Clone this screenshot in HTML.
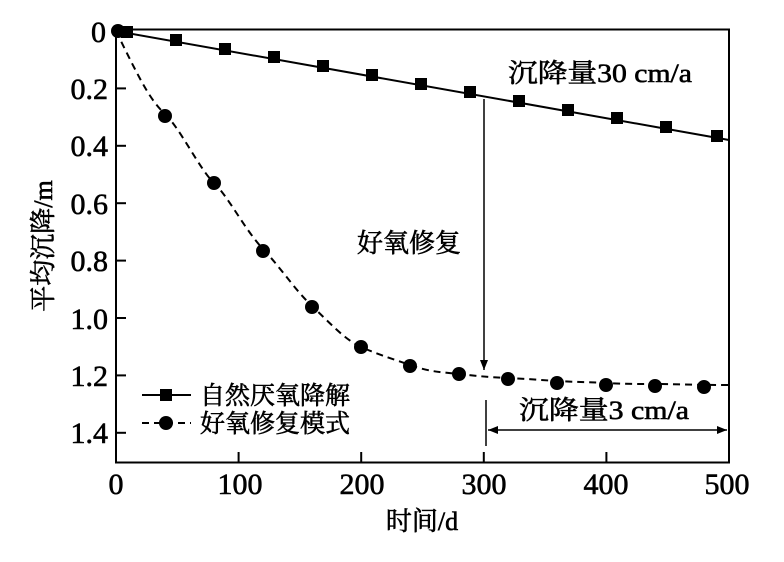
<!DOCTYPE html><html><head><meta charset="utf-8"><style>body{margin:0;background:#fff}svg{display:block}text{font-family:"Liberation Serif","Noto Serif CJK SC",serif;fill:#000;stroke:#000;stroke-width:0.6}</style></head><body>
<svg width="784" height="562" viewBox="0 0 784 562">
<defs><marker id="ah" markerWidth="10" markerHeight="8" refX="10" refY="4" orient="auto-start-reverse" markerUnits="userSpaceOnUse"><path d="M0,0L10,4L0,8z" fill="#000"/></marker></defs>
<rect x="116" y="29.5" width="613" height="433" fill="none" stroke="#000" stroke-width="2"/>
<g stroke="#000" stroke-width="2">
<line x1="238.6" y1="462" x2="238.6" y2="452"/><line x1="361.2" y1="462" x2="361.2" y2="452"/><line x1="483.8" y1="462" x2="483.8" y2="452"/><line x1="606.4" y1="462" x2="606.4" y2="452"/>
<line x1="116" y1="88.4" x2="126" y2="88.4"/><line x1="116" y1="145.8" x2="126" y2="145.8"/><line x1="116" y1="203.2" x2="126" y2="203.2"/><line x1="116" y1="260.6" x2="126" y2="260.6"/><line x1="116" y1="318" x2="126" y2="318"/><line x1="116" y1="375.4" x2="126" y2="375.4"/><line x1="116" y1="432.8" x2="126" y2="432.8"/>
</g>
<g font-size="30" text-anchor="end"><text x="106" y="42">0</text><text x="108" y="99">0.2</text><text x="108" y="156">0.4</text><text x="108" y="214">0.6</text><text x="108" y="271">0.8</text><text x="108" y="329">1.0</text><text x="108" y="386">1.2</text><text x="108" y="443">1.4</text></g>
<g font-size="30" text-anchor="middle"><text x="116" y="494">0</text><text x="240" y="494">100</text><text x="362" y="494">200</text><text x="484" y="494">300</text><text x="606" y="494">400</text><text x="727" y="494">500</text></g>
<text x="422" y="530" font-size="26" text-anchor="middle">时间/d</text>
<text transform="translate(52,246) rotate(-90)" font-size="26" text-anchor="middle">平均沉降/m</text>
<polyline points="116,31 729,140" fill="none" stroke="#000" stroke-width="2"/>
<g fill="#000">
<rect x="121" y="26" width="12" height="12"/><rect x="170" y="34" width="12" height="12"/><rect x="219" y="43" width="12" height="12"/><rect x="268" y="51" width="12" height="12"/><rect x="317" y="60" width="12" height="12"/><rect x="366" y="69" width="12" height="12"/><rect x="415" y="78" width="12" height="12"/><rect x="464" y="86" width="12" height="12"/><rect x="513" y="95" width="12" height="12"/><rect x="562" y="104" width="12" height="12"/><rect x="611" y="112" width="12" height="12"/><rect x="660" y="121" width="12" height="12"/><rect x="711" y="130" width="12" height="12"/>
</g>
<path d="M116,31 C140,80 150,100 165,114 S200,170 214,183 S245,230 263,249 S295,290 312,306 S345,340 361,347 S390,358 410,365 S440,372 459,374 S485,377 508,378 S540,380 557,381 S590,382 606,383 S640,384 655,384 S700,385 729,385" fill="none" stroke="#000" stroke-width="2" stroke-dasharray="7,5"/>
<g fill="#000">
<circle cx="118" cy="31" r="7"/><circle cx="165" cy="116" r="7"/><circle cx="214" cy="183" r="7"/><circle cx="263" cy="251" r="7"/><circle cx="312" cy="307" r="7"/><circle cx="361" cy="347" r="7"/><circle cx="410" cy="366" r="7"/><circle cx="459" cy="374" r="7"/><circle cx="508" cy="379" r="7"/><circle cx="557" cy="383" r="7"/><circle cx="606" cy="385" r="7"/><circle cx="655" cy="386" r="7"/><circle cx="704" cy="387" r="7"/>
</g>
<line x1="484" y1="99" x2="484" y2="370" stroke="#000" stroke-width="1.5" marker-end="url(#ah)"/>
<line x1="486" y1="400" x2="486" y2="446" stroke="#000" stroke-width="1.5"/>
<line x1="488" y1="430" x2="727" y2="430" stroke="#000" stroke-width="1.5" marker-start="url(#ah)" marker-end="url(#ah)"/>
<text x="508" y="82" font-size="26" textLength="184" lengthAdjust="spacingAndGlyphs">沉降量30 cm/a</text>
<text x="357" y="252" font-size="26">好氧修复</text>
<text x="519" y="419" font-size="26" textLength="170" lengthAdjust="spacingAndGlyphs">沉降量3 cm/a</text>
<line x1="142" y1="395" x2="191" y2="395" stroke="#000" stroke-width="2"/><rect x="160" y="389" width="12" height="12" fill="#000"/>
<line x1="142" y1="423" x2="191" y2="423" stroke="#000" stroke-width="2" stroke-dasharray="7,5"/><circle cx="166" cy="423" r="7" fill="#000"/>
<text x="200" y="404" font-size="25">自然厌氧降解</text>
<text x="200" y="432" font-size="25">好氧修复模式</text>
</svg></body></html>
